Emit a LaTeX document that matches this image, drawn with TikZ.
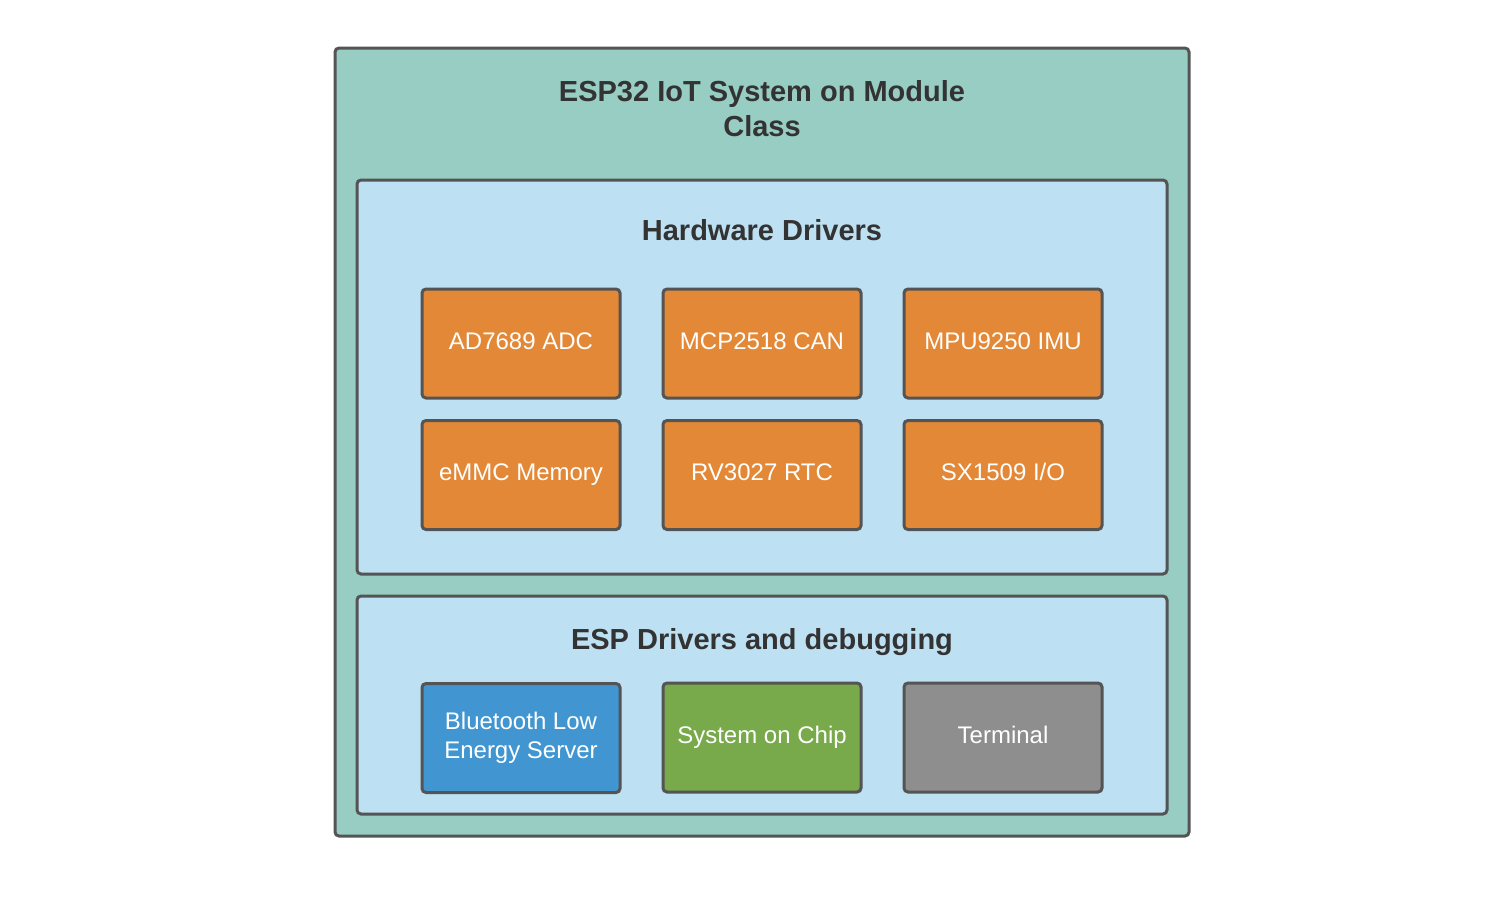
\documentclass[tikz,border=0pt]{standalone}
\usepackage{fontspec}
\setmainfont{Liberation Sans}
\definecolor{modteal}{HTML}{98CDC4}
\definecolor{grpblue}{HTML}{BDE0F2}
\definecolor{edgegray}{HTML}{545454}
\definecolor{drvorange}{HTML}{E38836}
\definecolor{bleblue}{HTML}{4196D2}
\definecolor{socgreen}{HTML}{78A94B}
\definecolor{termgray}{HTML}{8E8E8E}
\definecolor{headtext}{HTML}{333333}
\tikzset{
  frame/.style={draw=edgegray,line width=1.5pt,rounded corners=2pt,inner sep=0pt},
  drvshape/.style={frame,minimum width=99pt,minimum height=54.5pt,text=white,align=center,
    font=\fontsize{12}{14.5}\selectfont},
  drvbox/.style={drvshape,text height=9pt,text depth=3.5pt},
  heading/.style={text=headtext,align=center,font=\fontsize{14.5}{17.5}\selectfont\bfseries},
  headline/.style={heading,text height=10.5pt,text depth=0pt}
}
\begin{document}
\begin{tikzpicture}[x=0.5pt,y=-0.5pt]
\useasboundingbox (0,0) rectangle (1505,896);
% module frame and its two groups
\node (module) [frame,fill=modteal,minimum width=427pt,minimum height=394pt] at (762,442) {};
\node (hwgroup) [frame,fill=grpblue,minimum width=405pt,minimum height=197pt] at (762,377) {};
\node (espgroup) [frame,fill=grpblue,minimum width=405pt,minimum height=109pt] at (762,705) {};
% headings
\node (moduletitle) [heading] at (762,109) {ESP32 IoT System on Module\\Class};
\node (hwtitle) [headline] at (762,230) {Hardware Drivers};
\node (esptitle) [headline] at (762,639) {ESP Drivers and debugging};
% hardware drivers
\node (adc) [drvbox,fill=drvorange] at (521,343.5) {AD7689 ADC};
\node (can) [drvbox,fill=drvorange] at (762,343.5) {MCP2518 CAN};
\node (imu) [drvbox,fill=drvorange] at (1003,343.5) {MPU9250 IMU};
\node (emmc) [drvbox,fill=drvorange] at (521,475) {eMMC Memory};
\node (rtc) [drvbox,fill=drvorange] at (762,475) {RV3027 RTC};
\node (gpio) [drvbox,fill=drvorange] at (1003,475) {SX1509 I/O};
% esp drivers
\node (ble) [drvshape,fill=bleblue] at (521,738) {Bluetooth Low\\Energy Server};
\node (soc) [drvbox,fill=socgreen] at (762,737.5) {System on Chip};
\node (term) [drvbox,fill=termgray] at (1003,737.5) {Terminal};
\end{tikzpicture}
\end{document}
